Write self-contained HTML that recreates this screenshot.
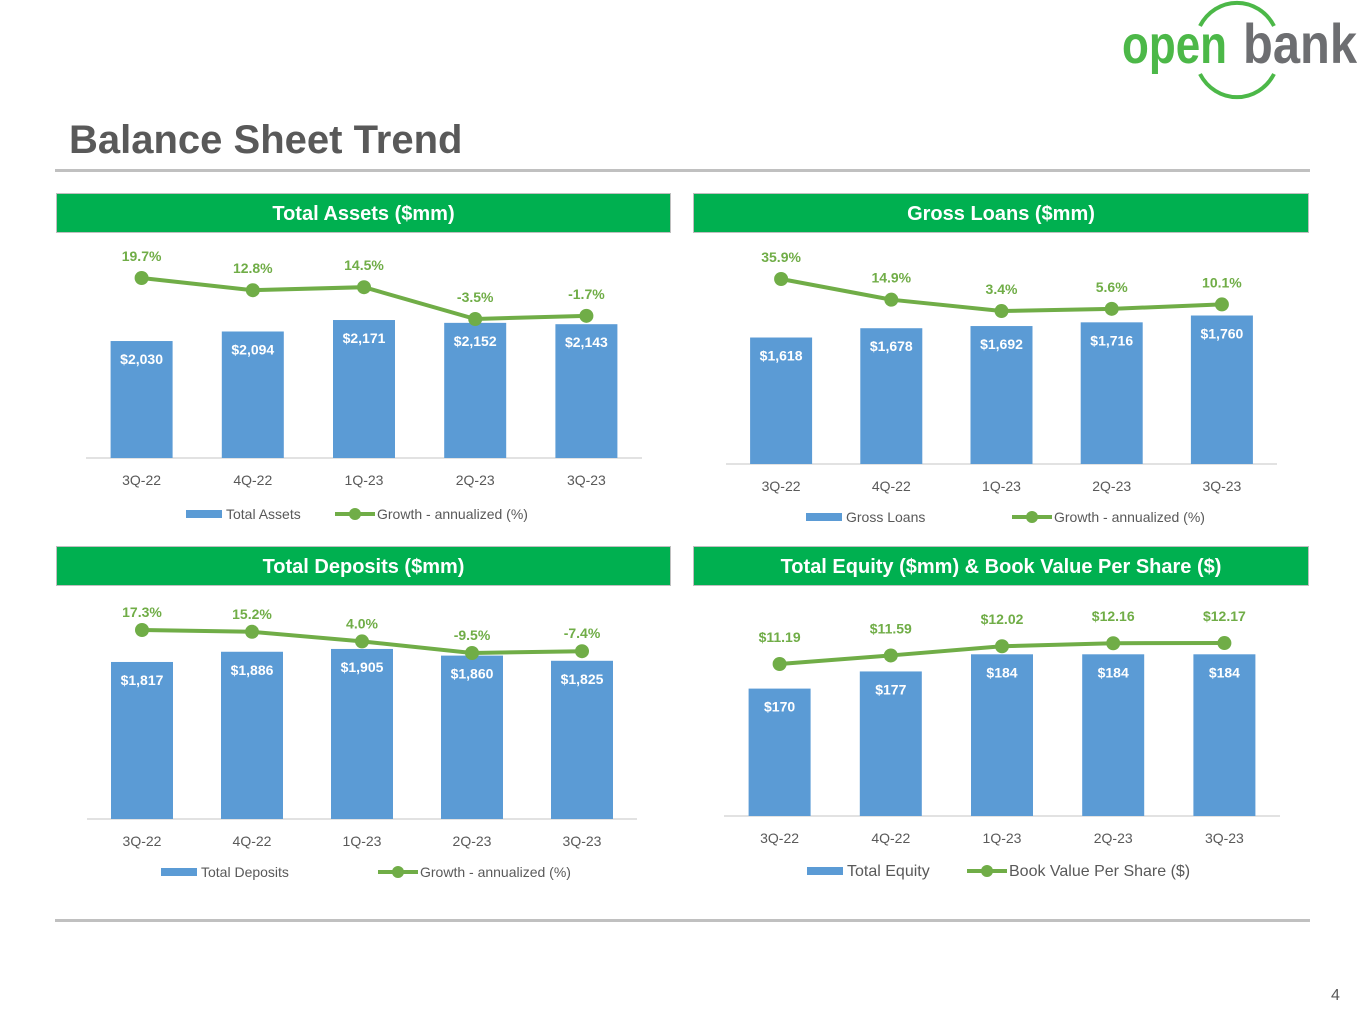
<!DOCTYPE html>
<html><head><meta charset="utf-8">
<style>
body{margin:0;width:1365px;height:1024px;background:#fff;position:relative;overflow:hidden;font-family:"Liberation Sans",sans-serif}
.hdr{position:absolute;height:40px;background:#00b050;color:#fff;font-weight:bold;font-size:20px;text-align:center;line-height:40px;border:1px solid #bfbfbf;box-sizing:border-box}
.rule{position:absolute;left:55px;width:1255px;height:3px;background:#c0c0c0}
</style></head><body>
<div style="position:absolute;left:1112px;top:0;width:253px;height:100px">
<svg width="253" height="100">
<path d="M88,26 A42,44 0 0 1 162,26" fill="none" stroke="#4cb848" stroke-width="4"/>
<path d="M88,74 A42,44 0 0 0 162,74" fill="none" stroke="#4cb848" stroke-width="4"/>
<text x="10" y="63" font-family="Liberation Sans,sans-serif" font-weight="bold" font-size="54" fill="#4cb848" textLength="105" lengthAdjust="spacingAndGlyphs">open</text>
<text x="131" y="63" font-family="Liberation Sans,sans-serif" font-weight="bold" font-size="56" fill="#6d6e71" textLength="114" lengthAdjust="spacingAndGlyphs">bank</text></svg></div>
<div style="position:absolute;left:69px;top:118px;font-size:40px;font-weight:bold;color:#595959">Balance Sheet Trend</div>
<div class="rule" style="top:169px"></div>
<div class="rule" style="top:919px"></div>
<div style="position:absolute;left:1331px;top:987px;font-size:16px;color:#595959">4</div>
<div class="hdr" style="left:56px;top:193px;width:615px">Total Assets ($mm)</div>
<div class="hdr" style="left:693px;top:193px;width:616px">Gross Loans ($mm)</div>
<div class="hdr" style="left:56px;top:546px;width:615px">Total Deposits ($mm)</div>
<div class="hdr" style="left:693px;top:546px;width:616px">Total Equity ($mm) &amp; Book Value Per Share ($)</div>
<svg id="charts" width="1365" height="1024" style="position:absolute;left:0;top:0"></svg>
<script>
const categories = ["3Q-22","4Q-22","1Q-23","2Q-23","3Q-23"];
const assetsValues = [2030,2094,2171,2152,2143];
const assetsGrowth = [19.7,12.8,14.5,-3.5,-1.7];
const loansValues = [1618,1678,1692,1716,1760];
const loansGrowth = [35.9,14.9,3.4,5.6,10.1];
const depositsValues = [1817,1886,1905,1860,1825];
const depositsGrowth = [17.3,15.2,4.0,-9.5,-7.4];
const equityValues = [170,177,184,184,184];
const bookValue = [11.19,11.59,12.02,12.16,12.17];

const NS="http://www.w3.org/2000/svg";
const svg=document.getElementById('charts');
function mk(tag,attrs,text){const e=document.createElementNS(NS,tag);for(const k in attrs)e.setAttribute(k,attrs[k]);if(text!==undefined)e.textContent=text;svg.appendChild(e);return e;}
function fmtMoney(v){return '$'+v.toLocaleString('en-US');}
function fmtPct(v){return v.toFixed(1)+'%';}
function fmtBV(v){return '$'+v.toFixed(2);}

function chart(c){
  const step=(c.x1-c.x0)/5;
  const xPos=i=>c.x0+step*(i+0.5);
  const yBar=v=>c.base-(v-c.bMin)*c.bK;
  const yLine=v=>c.lRef-(v-c.lRefV)*c.lK;
  let ax=mk('line',{x1:c.x0,x2:c.x1,y1:c.base,y2:c.base,stroke:'#d9d9d9','stroke-width':1.5});
  
  
  c.vals.forEach((v,i)=>{
    const t=yBar(v);
    const r=mk('rect',{x:xPos(i)-31,y:t,width:62,height:c.base-t,fill:'#5b9bd5'});
    
    
    const l=mk('text',{x:xPos(i),y:t+23,'text-anchor':'middle','font-size':14,'font-weight':'bold',fill:'#fff'},fmtMoney(v));
    
    
    const xl=mk('text',{x:xPos(i),y:c.base+27,'text-anchor':'middle','font-size':14,fill:'#595959'},categories[i]);
    
    
  });
  const pts=c.line.map((v,i)=>xPos(i)+','+yLine(v)).join(' ');
  const pl=mk('polyline',{points:pts,fill:'none',stroke:'#70ad47','stroke-width':4});
  
  
  c.line.forEach((v,i)=>{
    const cy=yLine(v);
    const p=mk('circle',{cx:xPos(i),cy:cy,r:7,fill:'#70ad47'});
    
    
    const t=mk('text',{x:xPos(i),y:cy-c.lOff,'text-anchor':'middle','font-size':14,'font-weight':'bold',fill:'#70ad47'},c.fmt(v));
    
    
  });
  const fs=c.legFs||14;
  const lr=mk('rect',{x:c.leg1,y:c.legY-4,width:36,height:8,fill:'#5b9bd5'});
  
  
  const lt=mk('text',{x:c.leg1+40,y:c.legY+5,'font-size':fs,fill:'#595959'},c.n1);
  
  
  const ll=mk('line',{x1:c.leg2,x2:c.leg2+40,y1:c.legY,y2:c.legY,stroke:'#70ad47','stroke-width':4});
  
  
  mk('circle',{cx:c.leg2+20,cy:c.legY,r:6,fill:'#70ad47'});
  const lt2=mk('text',{x:c.leg2+42,y:c.legY+5,'font-size':fs,fill:'#595959'},c.n2);
  
  
}
chart({id:'assets',x0:86,x1:642,base:458,bMin:1245,bK:0.149,vals:assetsValues,line:assetsGrowth,lRef:278,lRefV:19.7,lK:1.767,lOff:17,fmt:fmtPct,legY:514,leg1:186,leg2:335,n1:'Total Assets',n2:'Growth - annualized (%)'});
chart({id:'loans',x0:726,x1:1277,base:464,bMin:802,bK:0.155,vals:loansValues,line:loansGrowth,lRef:279,lRefV:35.9,lK:0.985,lOff:17,fmt:fmtPct,legY:517,leg1:806,leg2:1012,n1:'Gross Loans',n2:'Growth - annualized (%)'});
chart({id:'deposits',x0:87,x1:637,base:819,bMin:756,bK:0.148,vals:depositsValues,line:depositsGrowth,lRef:630,lRefV:17.3,lK:0.858,lOff:13,fmt:fmtPct,legY:872,leg1:161,leg2:378,n1:'Total Deposits',n2:'Growth - annualized (%)'});
chart({id:'equity',x0:724,x1:1280,base:816,bMin:118,bK:2.45,vals:equityValues,line:bookValue,lRef:664,lRefV:11.19,lK:21.4,lOff:22,fmt:fmtBV,legY:871,leg1:807,leg2:967,n1:'Total Equity',n2:'Book Value Per Share ($)',legFs:16});
</script>
</body></html>
